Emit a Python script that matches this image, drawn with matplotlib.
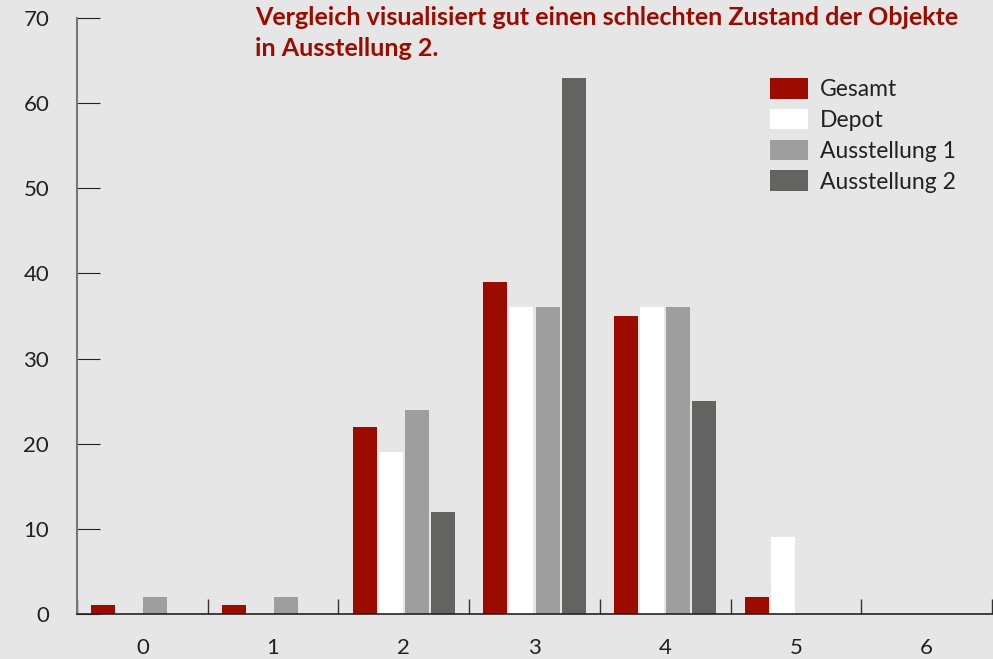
import matplotlib
matplotlib.use("Agg")
import matplotlib.pyplot as plt
import numpy as np

categories = ["0", "1", "2", "3", "4", "5", "6"]
series_names = ["Gesamt", "Depot", "Ausstellung 1", "Ausstellung 2"]
gesamt = [1, 1, 22, 39, 35, 2, 0]
depot = [0, 0, 19, 36, 36, 9, 0]
ausstellung1 = [2, 2, 24, 36, 36, 0, 0]
ausstellung2 = [0, 0, 12, 63, 25, 0, 0]
colors = ["#9b0b00", "#ffffff", "#9d9e9d", "#636362"]
title = "Vergleich visualisiert gut einen schlechten Zustand der Objekte\nin Ausstellung 2."

plt.rcParams['font.family'] = ['Lato', 'DejaVu Sans']
W, H = 993, 659
fig = plt.figure(figsize=(W / 100, H / 100), dpi=100, facecolor="#e6e6e6")
ax = fig.add_axes([77 / W, (H - 614) / H, (992 - 77) / W, (614 - 18) / H])
ax.set_facecolor("#e6e6e6")

x = np.arange(len(categories))
offsets = [-0.3, -0.1, 0.1, 0.3]
width = 0.184
for vals, name, c, off in zip([gesamt, depot, ausstellung1, ausstellung2], series_names, colors, offsets):
    ax.bar(x + off, vals, width=width, color=c, label=name, linewidth=0)

ax.set_xlim(-0.5, 6.5)
ax.set_ylim(0, 70)
ax.set_yticks(np.arange(0, 71, 10))
ax.set_xticks(x)
ax.set_xticklabels(categories)
ax.set_xticks(np.arange(-0.5, 6.6, 1), minor=True)

for s in ["top", "right"]:
    ax.spines[s].set_visible(False)
ax.spines["left"].set_color("#777777")
ax.spines["left"].set_linewidth(1.5)
ax.spines["bottom"].set_color("#222222")
ax.spines["bottom"].set_linewidth(1.2)

ax.tick_params(axis="y", direction="in", length=16.5, width=0.8, color="#222222",
               pad=20, labelsize=16, labelcolor="#222222")
ax.tick_params(axis="x", which="major", length=0, pad=17, labelsize=16, labelcolor="#222222")
ax.tick_params(axis="x", which="minor", direction="in", length=10.5, width=1.0, color="#333333")

fig.text(255 / W, 1 - 6 / H, title, ha="left", va="top", color="#9b0b00",
         fontsize=18, fontweight="bold", linespacing=1.42)

leg = ax.legend(loc="upper left", bbox_to_anchor=(770 / W, 1 - 78 / H),
                bbox_transform=fig.transFigure, frameon=False, fontsize=16.5,
                handlelength=1.66, handleheight=1.0, labelspacing=0.38,
                handletextpad=0.5, borderpad=0, borderaxespad=0)
for t in leg.get_texts():
    t.set_color("#222222")

fig.savefig("out.png", dpi=100, facecolor=fig.get_facecolor())
